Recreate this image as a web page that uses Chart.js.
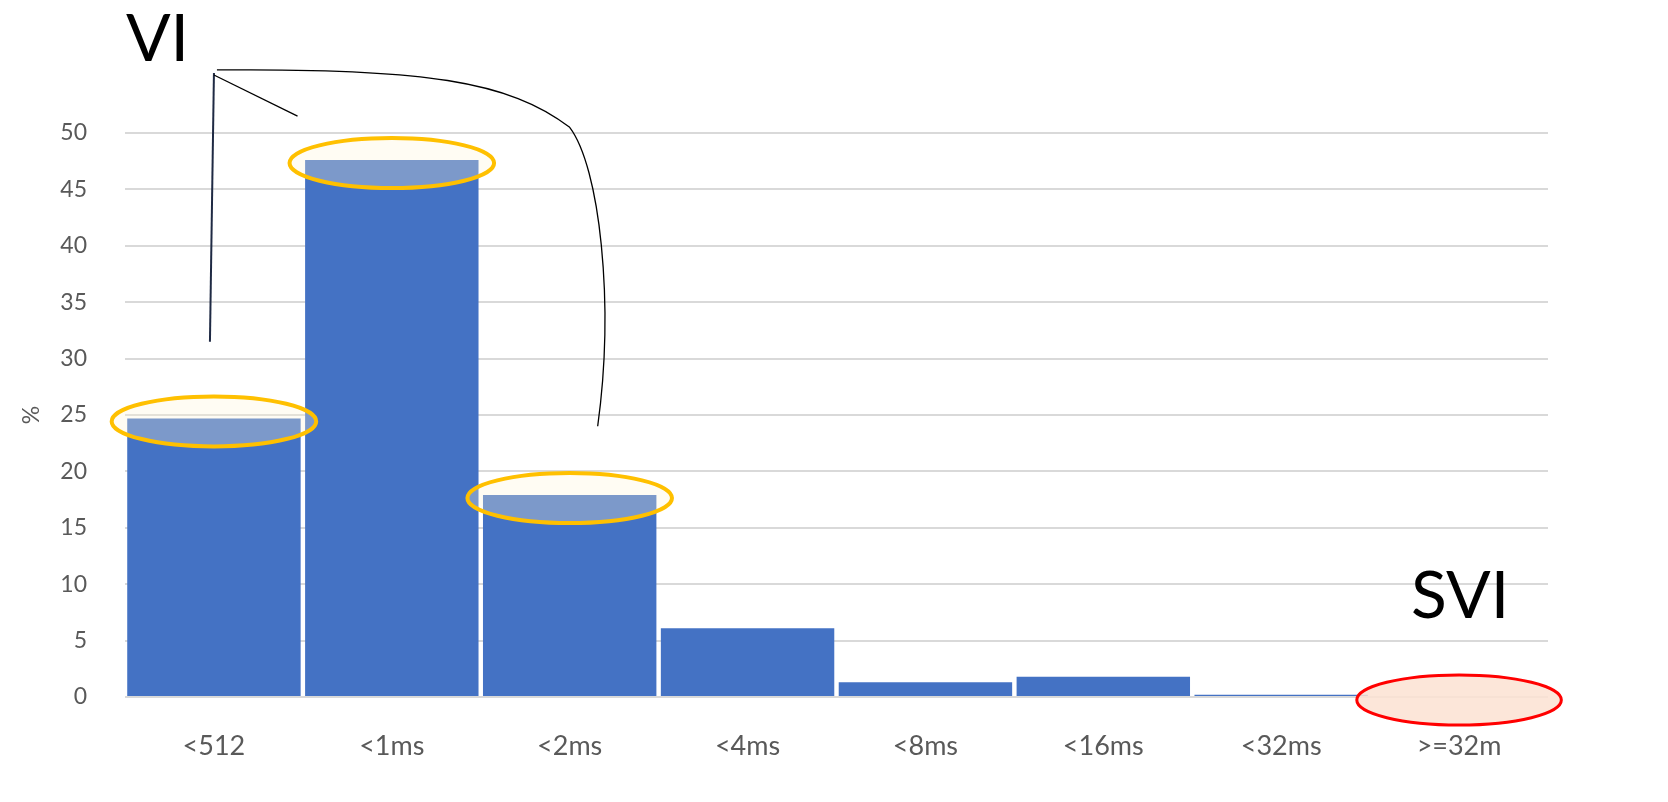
<!DOCTYPE html>
<html>
<head>
<meta charset="utf-8">
<script src="https://cdn.jsdelivr.net/npm/chart.js@4.4.1/dist/chart.umd.min.js"></script>
<style>
  html, body { margin: 0; padding: 0; background: #fff; }
  #wrap { width: 1668px; height: 802px; }
</style>
</head>
<body>
<div id="wrap"><canvas id="latencyChart" width="1668" height="802"></canvas></div>
<script>
const categories = ['<512', '<1ms', '<2ms', '<4ms', '<8ms', '<16ms', '<32ms', '>=32m'];
const percentValues = [24.7, 47.6, 17.9, 6.1, 1.3, 1.8, 0.2, 0];
const yTicks = [0, 5, 10, 15, 20, 25, 30, 35, 40, 45, 50];
const viBars = [0, 1, 2];
const sviBar = 7;

const FONT = 'Lato, "Open Sans", sans-serif';

const annotations = {
  id: 'annotations',
  afterDatasetsDraw(chart) {
    const ctx = chart.ctx;
    const x = chart.scales.x;
    const y = chart.scales.y;
    const step = x.getPixelForValue(1) - x.getPixelForValue(0);
    const cx = i => x.getPixelForValue(i);
    const cy = v => y.getPixelForValue(v);

    function ellipse(i, fill, stroke, width) {
      ctx.beginPath();
      ctx.ellipse(cx(i), cy(percentValues[i]) + 3, step * 0.575, 25, 0, 0, Math.PI * 2);
      ctx.fillStyle = fill;
      ctx.fill();
      ctx.lineWidth = width;
      ctx.strokeStyle = stroke;
      ctx.stroke();
    }

    ctx.save();
    viBars.forEach(i => ellipse(i, 'rgba(255, 244, 214, 0.3)', '#FFC000', 4));
    ellipse(sviBar, 'rgba(251, 226, 210, 0.85)', '#FF0000', 3);

    // bracket from VI to the three bars
    const ox = cx(0), oy = cy(55.5);
    ctx.strokeStyle = '#000';
    ctx.lineWidth = 1.3;
    ctx.beginPath();
    ctx.moveTo(ox + 3, oy - 1);
    ctx.bezierCurveTo(cx(1) + 30, oy - 3, cx(2) - 60, oy + 10, cx(2), cy(50.5));
    ctx.bezierCurveTo(cx(2) + 30, cy(47), cx(2) + 45, cy(35), cx(2) + 28, cy(24));
    ctx.stroke();

    ctx.strokeStyle = '#1F2A44';
    ctx.lineWidth = 2;
    ctx.beginPath();
    ctx.moveTo(ox, oy + 2);
    ctx.lineTo(ox - 4, cy(31.5));
    ctx.stroke();

    ctx.strokeStyle = '#000';
    ctx.lineWidth = 1.3;
    ctx.beginPath();
    ctx.moveTo(ox, oy + 4);
    ctx.lineTo(ox + step * 0.47, cy(51.5));
    ctx.stroke();

    ctx.fillStyle = '#000';
    ctx.font = '66px ' + FONT;
    ctx.textBaseline = 'alphabetic';
    ctx.textAlign = 'left';
    ctx.fillText('VI', ox - 88, oy - 10);
    ctx.fillText('SVI', cx(sviBar) - 48, cy(7));
    ctx.restore();
  }
};

new Chart(document.getElementById('latencyChart'), {
  type: 'bar',
  data: {
    labels: categories,
    datasets: [{
      label: '%',
      data: percentValues,
      backgroundColor: '#4472C4',
      borderWidth: 0,
      barPercentage: 0.975,
      categoryPercentage: 1
    }]
  },
  options: {
    responsive: false,
    devicePixelRatio: 1,
    animation: false,
    layout: { padding: { left: 18, right: 120, top: 133, bottom: 35 } },
    plugins: {
      legend: { display: false },
      tooltip: { enabled: false }
    },
    scales: {
      x: {
        afterFit: axis => { axis.height = 70; },
        grid: { display: false },
        border: { display: false },
        ticks: { color: '#595959', font: { family: FONT, size: 27 }, padding: 25 }
      },
      y: {
        min: 0,
        max: 50,
        afterFit: axis => { axis.width = 107; },
        afterBuildTicks: axis => { axis.ticks = yTicks.map(v => ({ value: v })); },
        grid: { color: '#D9D9D9', lineWidth: 2, drawTicks: false },
        border: { display: false },
        ticks: { color: '#595959', font: { family: FONT, size: 23 }, padding: 38 },
        title: {
          display: true,
          text: '%',
          color: '#595959',
          font: { family: FONT, size: 23 },
          padding: 0
        }
      }
    }
  },
  plugins: [annotations]
});
</script>
</body>
</html>
